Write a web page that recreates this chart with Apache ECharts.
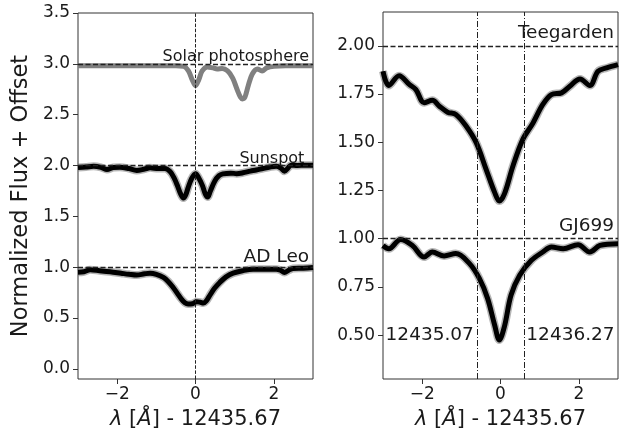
<!DOCTYPE html>
<html>
<head>
<meta charset="utf-8">
<script src="https://cdn.jsdelivr.net/npm/echarts@6/dist/echarts.min.js"></script>
<style>html,body{margin:0;padding:0;background:#fff}#c{width:624px;height:435px}</style>
</head>
<body>
<div id="c"></div>
<script>
// ---- data ----
const solarX = [-3, -2.5, -2, -1.5, -1, -0.5, -0.3, -0.18, -0.08, 0, 0.08, 0.17, 0.3, 0.45, 0.55, 0.68, 0.82, 0.95, 1.06, 1.15, 1.2, 1.26, 1.35, 1.45, 1.58, 1.7, 1.82, 2.0, 2.3, 2.6, 3.0];
const solarY = [2.98, 2.98, 2.98, 2.98, 2.98, 2.98, 2.975, 2.93, 2.84, 2.785, 2.84, 2.93, 2.97, 2.96, 2.95, 2.955, 2.93, 2.86, 2.75, 2.67, 2.655, 2.67, 2.79, 2.9, 2.95, 2.93, 2.96, 2.975, 2.98, 2.98, 2.98];

const sunspotX = [-3, -2.8, -2.6, -2.4, -2.26, -2.1, -1.93, -1.7, -1.5, -1.3, -1.16, -0.95, -0.78, -0.65, -0.55, -0.45, -0.38, -0.31, -0.25, -0.19, -0.1, 0.0, 0.08, 0.18, 0.25, 0.31, 0.38, 0.49, 0.6, 0.7, 0.9, 1.05, 1.21, 1.4, 1.55, 1.72, 1.9, 2.06, 2.18, 2.27, 2.36, 2.44, 2.6, 2.8, 3.0];
const sunspotY = [1.98, 1.985, 1.993, 1.98, 1.96, 1.98, 1.983, 1.97, 1.951, 1.965, 1.977, 1.97, 1.97, 1.94, 1.88, 1.79, 1.72, 1.68, 1.71, 1.78, 1.87, 1.918, 1.88, 1.8, 1.72, 1.69, 1.75, 1.846, 1.9, 1.918, 1.925, 1.92, 1.928, 1.945, 1.955, 1.97, 1.985, 1.993, 1.975, 1.944, 1.975, 2.003, 2.0, 2.003, 2.003];

const adleoX = [-3, -2.85, -2.69, -2.45, -2.18, -1.9, -1.7, -1.5, -1.3, -1.16, -1.0, -0.82, -0.7, -0.57, -0.46, -0.36, -0.27, -0.19, -0.08, 0.03, 0.12, 0.2, 0.28, 0.36, 0.48, 0.62, 0.78, 0.96, 1.2, 1.47, 1.8, 2.06, 2.17, 2.27, 2.38, 2.49, 2.75, 3.0];
const adleoY = [0.95, 0.955, 0.974, 0.965, 0.954, 0.94, 0.93, 0.922, 0.935, 0.941, 0.93, 0.899, 0.86, 0.80, 0.74, 0.686, 0.65, 0.637, 0.64, 0.66, 0.655, 0.647, 0.67, 0.719, 0.79, 0.85, 0.905, 0.941, 0.965, 0.98, 0.98, 0.98, 0.97, 0.948, 0.97, 0.987, 0.99, 0.997];

const teegX = [-3, -2.85, -2.59, -2.33, -2.16, -1.95, -1.74, -1.56, -1.35, -1.14, -0.88, -0.62, -0.37, -0.15, -0.03, 0.10, 0.32, 0.57, 0.83, 1.08, 1.30, 1.56, 1.77, 2.03, 2.28, 2.49, 2.71, 3.0];
const teegY = [1.868, 1.794, 1.845, 1.80, 1.773, 1.705, 1.717, 1.687, 1.656, 1.644, 1.584, 1.498, 1.361, 1.24, 1.195, 1.232, 1.378, 1.515, 1.60, 1.696, 1.747, 1.756, 1.79, 1.828, 1.794, 1.868, 1.885, 1.902];

const gjX = [-3, -2.85, -2.55, -2.25, -1.95, -1.74, -1.44, -1.14, -0.79, -0.54, -0.33, -0.15, -0.03, 0.10, 0.27, 0.49, 0.79, 1.08, 1.30, 1.60, 1.98, 2.28, 2.54, 3.0];
const gjY = [0.965, 0.948, 0.996, 0.965, 0.905, 0.931, 0.911, 0.923, 0.871, 0.794, 0.691, 0.553, 0.475, 0.545, 0.708, 0.811, 0.888, 0.931, 0.957, 0.948, 0.969, 0.931, 0.965, 0.974];

const leftTicksY = [0.0, 0.5, 1.0, 1.5, 2.0, 2.5, 3.0, 3.5];
const rightTicksY = [0.5, 0.75, 1.0, 1.25, 1.5, 1.75, 2.0];
const ticksX = [-2, 0, 2];

const leftRefY = [3.0, 2.0, 1.0];
const rightRefY = [2.0, 1.0];
const leftVLine = [0];
const rightVLines = [-0.6, 0.6];

const leftLabels = ['Solar photosphere', 'Sunspot', 'AD Leo'];
const leftLabelX = [2.9, 2.78, 2.9];
const leftLabelY = [3.0, 2.0, 1.0];
const rightLabels = ['Teegarden', 'GJ699'];
const rightLabelX = [2.9, 2.9];
const rightLabelY = [2.0, 1.0];
const waveLabels = ['12435.07', '12436.27'];
const waveLabelX = [-0.68, 0.66];
const waveLabelY = [0.5, 0.5];

// ---- chart ----
const FONT = 'DejaVu Sans';
const TXT = '#1a1a1a';
const zip = (xs, ys) => xs.map((x, i) => [x, ys[i]]);
const minus = v => String(v).replace('-', '\u2212');

function xAxisCfg(gi) {
  return {
    gridIndex: gi, type: 'value', min: -3, max: 3,
    axisLine: { show: false, onZero: false },
    axisTick: { show: true, length: 5, lineStyle: { color: '#333', width: 1 }, customValues: ticksX },
    axisLabel: { customValues: ticksX, formatter: v => minus(v), fontFamily: FONT, fontSize: 17, color: TXT, margin: 7 },
    splitLine: { show: false },
    name: '{i|\u03BB} [{i|\u00C5}] - 12435.67', nameLocation: 'middle', nameGap: 30,
    nameTextStyle: { fontFamily: FONT, fontSize: 21, color: TXT, verticalAlign: 'top',
      rich: { i: { fontFamily: FONT, fontStyle: 'italic', fontSize: 21, color: TXT } } }
  };
}
function yAxisCfg(gi, min, max, ticks, dec, name) {
  return {
    gridIndex: gi, type: 'value', min: min, max: max,
    axisLine: { show: false, onZero: false },
    axisTick: { show: true, length: 5, lineStyle: { color: '#333', width: 1 }, customValues: ticks },
    axisLabel: { customValues: ticks, formatter: v => v.toFixed(dec), fontFamily: FONT, fontSize: 17, color: TXT, margin: 8 },
    splitLine: { show: false },
    name: name || '', nameLocation: 'middle', nameRotate: 90, nameGap: 45,
    nameTextStyle: { fontFamily: FONT, fontSize: 22.5, color: TXT }
  };
}
function refLines(xi, yi, hs, vs, vtype) {
  return {
    type: 'line', xAxisIndex: xi, yAxisIndex: yi, data: [], silent: true,
    markLine: {
      symbol: 'none', silent: true, animation: false, label: { show: false },
      data: hs.map(h => ({ yAxis: h, lineStyle: { type: [5, 2.5], color: '#222', width: 1.3 } }))
        .concat(vs.map(v => ({ xAxis: v, lineStyle: { type: vtype, color: '#222', width: 1 } })))
    }
  };
}
function curve(xi, yi, xs, ys, color, width, halo) {
  const out = [];
  if (halo) out.push({ type: 'line', xAxisIndex: xi, yAxisIndex: yi, data: zip(xs, ys), showSymbol: false, smooth: 0.35,
    lineStyle: { color: 'rgba(120,120,120,0.55)', width: width + 3 }, silent: true, z: 3 });
  out.push({ type: 'line', xAxisIndex: xi, yAxisIndex: yi, data: zip(xs, ys), showSymbol: false, smooth: 0.35,
    lineStyle: { color: color, width: width }, silent: true, z: 4 });
  return out;
}
function textSeries(xi, yi, texts, xs, ys, opts) {
  return {
    type: 'scatter', xAxisIndex: xi, yAxisIndex: yi, symbolSize: 0, silent: true, z: 6,
    itemStyle: { opacity: 1 },
    data: texts.map((t, i) => ({ value: [xs[i], ys[i]], label: Object.assign({ show: true, formatter: t, position: [0, 0],
      fontFamily: FONT, color: TXT, opacity: 1, textBorderWidth: 0 }, opts[i]) }))
  };
}

const chart = echarts.init(document.getElementById('c'), null, { renderer: 'canvas' });
chart.setOption({
  animation: false,
  backgroundColor: '#fff',
  grid: [
    { left: 78, right: 311, top: 13, bottom: 54, show: true, borderColor: '#333', borderWidth: 1, backgroundColor: 'transparent' },
    { left: 383, right: 6, top: 12, bottom: 54, show: true, borderColor: '#333', borderWidth: 1, backgroundColor: 'transparent' }
  ],
  xAxis: [xAxisCfg(0), xAxisCfg(1)],
  yAxis: [
    yAxisCfg(0, -0.1, 3.5, leftTicksY, 1, 'Normalized Flux + Offset'),
    yAxisCfg(1, 0.273, 2.175, rightTicksY, 2)
  ],
  series: [
    refLines(0, 0, leftRefY, leftVLine, [3.5, 1.6]),
    refLines(1, 1, rightRefY, rightVLines, [6, 2, 1, 2]),
    ...curve(0, 0, solarX, solarY, '#808080', 5, false),
    ...curve(0, 0, sunspotX, sunspotY, '#000', 5, true),
    ...curve(0, 0, adleoX, adleoY, '#000', 5, true),
    ...curve(1, 1, teegX, teegY, '#000', 5, true),
    ...curve(1, 1, gjX, gjY, '#000', 5, true),
    textSeries(0, 0, leftLabels, leftLabelX, leftLabelY, [
      { align: 'right', verticalAlign: 'bottom', fontSize: 16, offset: [0, 1] },
      { align: 'right', verticalAlign: 'bottom', fontSize: 16, offset: [0, 1] },
      { align: 'right', verticalAlign: 'bottom', fontSize: 18.5, offset: [0, 0] }
    ]),
    textSeries(1, 1, rightLabels, rightLabelX, rightLabelY, [
      { align: 'right', verticalAlign: 'bottom', fontSize: 18.5, offset: [0, -3] },
      { align: 'right', verticalAlign: 'bottom', fontSize: 18.5, offset: [0, -3] }
    ]),
    textSeries(1, 1, waveLabels, waveLabelX, waveLabelY, [
      { align: 'right', verticalAlign: 'middle', fontSize: 18.5 },
      { align: 'left', verticalAlign: 'middle', fontSize: 18.5 }
    ])
  ]
});
</script>
</body>
</html>
